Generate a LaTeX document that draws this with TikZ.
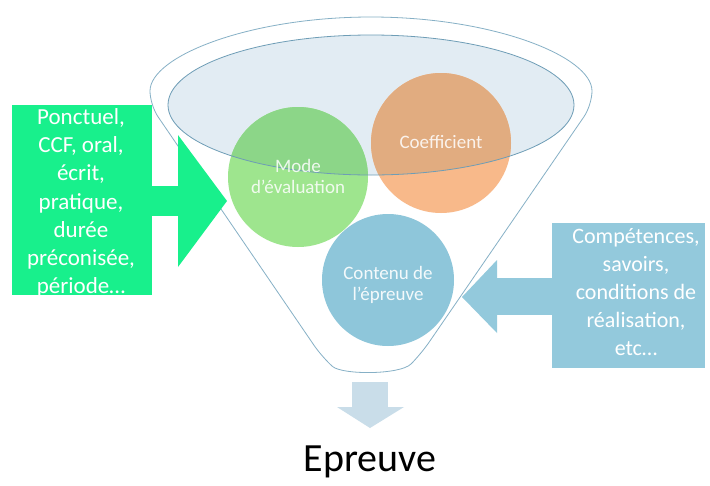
\documentclass[tikz,border=0pt]{standalone}
\usepackage{fontspec}
\setmainfont{Carlito}
\definecolor{rimline}{HTML}{86B0C6}
\definecolor{ellfill}{HTML}{E2ECF3}
\definecolor{ellline}{HTML}{6E9DB6}
\definecolor{greenlow}{HTML}{9EE58E}
\definecolor{greenup}{HTML}{8CD688}
\definecolor{orangelow}{HTML}{F8B98A}
\definecolor{orangeup}{HTML}{E1AC80}
\definecolor{bluecirc}{HTML}{8EC6DA}
\definecolor{leftarrow}{HTML}{18F08C}
\definecolor{rightarrow}{HTML}{93C9DC}
\definecolor{downarrow}{HTML}{C9DDE9}
\tikzset{
  circtext/.style={align=center, text=white, font=\fontsize{19}{21}\selectfont, inner sep=0pt},
  boxtext/.style={align=center, text=white, inner sep=0pt},
}
\begin{document}
\begin{tikzpicture}[x=1pt,y=-1pt]
\useasboundingbox (0,0) rectangle (710,485);
\fill[white] (0,0) rectangle (710,485);
% funnel body
\draw[rimline, line width=0.8pt, fill=white, rounded corners=14pt]
  (150,105) arc[start angle=180, end angle=360, x radius=221, y radius=88]
  -- (421,354) .. controls (400,375) and (342,375) .. (322,357) -- cycle;
% inner ellipse fill
\fill[ellfill] (371,105) ellipse [x radius=203, y radius=70];
% circles
\fill[greenlow] (298,177) circle [radius=70];
\fill[orangelow] (441,143) circle [radius=70];
\fill[bluecirc] (388,280) circle [radius=66];
\begin{scope}
  \clip (371,105) ellipse [x radius=203, y radius=70];
  \fill[greenup] (298,177) circle [radius=70];
  \fill[orangeup] (441,143) circle [radius=70];
\end{scope}
\draw[ellline, line width=0.8pt] (371,105) ellipse [x radius=203, y radius=70];
% circle labels
\node[circtext, text opacity=0.85] (mode) at (298,176) {Mode\\d’évaluation};
\node[circtext, text opacity=0.85] (coef) at (441,142) {Coefficient};
\node[circtext, text opacity=0.9] (contenu) at (388,285) {Contenu de\\l’épreuve};
% left arrow box
\fill[leftarrow] (12,105) rectangle (152,295);
\fill[leftarrow] (150,186) rectangle (179,216);
\fill[leftarrow] (178,135) -- (227,201) -- (178,267) -- cycle;
\node[boxtext, font=\fontsize{23}{28.2}\selectfont] (lefttext) at (81,203)
  {Ponctuel,\\CCF, oral,\\écrit,\\pratique,\\durée\\préconisée,\\période…};
% right arrow box
\fill[rightarrow] (552,223) rectangle (705,368);
\fill[rightarrow] (496,278) rectangle (554,315);
\fill[rightarrow] (497,260) -- (462,297) -- (497,333) -- cycle;
\node[boxtext, font=\fontsize{22}{28.2}\selectfont] (righttext) at (636,292)
  {Compétences,\\savoirs,\\conditions de\\réalisation,\\etc…};
% down arrow
\fill[downarrow] (352,382) rectangle (388,408);
\fill[downarrow] (337,407) -- (404,407) -- (370,428) -- cycle;
\node[font=\fontsize{40}{44}\selectfont, inner sep=0pt] (epreuve) at (370,462) {Epreuve};
\end{tikzpicture}
\end{document}
